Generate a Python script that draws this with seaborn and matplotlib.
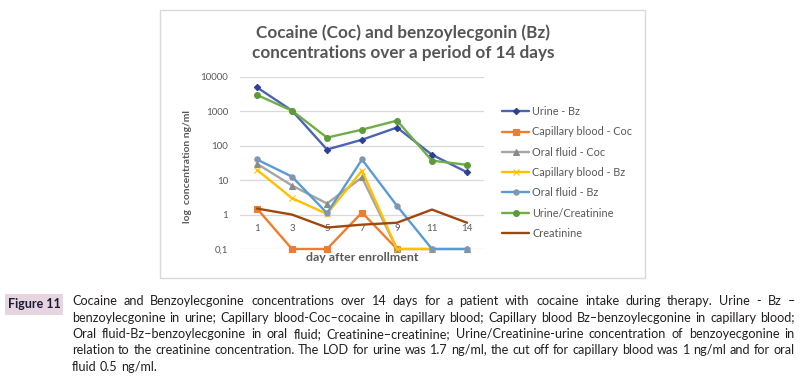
import numpy as np
import pandas as pd
import matplotlib
matplotlib.use("Agg")
import matplotlib.pyplot as plt
import seaborn as sns
from matplotlib.patches import Rectangle
from matplotlib.ticker import NullLocator

# ---------------- data ----------------
days = ["1", "3", "5", "7", "9", "11", "14"]
urine_bz = [5000, 1050, 78, 150, 340, 55, 17]
cap_blood_coc = [1.5, 0.1, 0.1, 1.15, 0.1, np.nan, np.nan]
oral_fluid_coc = [30, 7, 2.1, 12, 0.1, 0.1, 0.1]
cap_blood_bz = [20, 3, 1.05, 19, 0.1, 0.1, np.nan]
oral_fluid_bz = [40, 12.7, 1.1, 40, 1.8, 0.1, 0.1]
urine_creatinine = [3000, 1050, 173, 295, 540, 37, 28]
creatinine = [1.5, 1.0, 0.42, 0.51, 0.58, 1.4, 0.58]

series_names = ["Urine - Bz", "Capillary blood - Coc", "Oral fluid - Coc",
                "Capillary blood - Bz", "Oral fluid - Bz", "Urine/Creatinine",
                "Creatinine"]
series_values = [urine_bz, cap_blood_coc, oral_fluid_coc, cap_blood_bz,
                 oral_fluid_bz, urine_creatinine, creatinine]

y_ticks = [0.1, 1, 10, 100, 1000, 10000]
y_tick_labels = ["0,1", "1", "10", "100", "1000", "10000"]

title_lines = ["Cocaine (Coc) and benzoylecgonin (Bz)",
               "concentrations over a period of 14 days"]
x_title = "day after enrollment"
y_title = "log  concentration ng/ml"

figure_label = "Figure 11"
caption_lines = [
    "Cocaine and Benzoylecgonine concentrations over 14 days for a patient with cocaine intake during therapy. Urine - Bz \u2013",
    "benzoylecgonine in urine; Capillary blood-Coc\u2013cocaine in capillary blood; Capillary blood Bz\u2013benzoylecgonine in capillary blood;",
    "Oral fluid-Bz\u2013benzoylecgonine in oral fluid; Creatinine\u2013creatinine; Urine/Creatinine-urine concentration of benzoyecgonine in",
    "relation to the creatinine concentration. The LOD for urine was 1.7 ng/ml, the cut off for capillary blood was 1 ng/ml and for oral",
    "fluid 0.5 ng/ml.",
]

# ---------------- styles ----------------
styles = {
    "Urine - Bz": dict(color="#4a63b5", marker="D", ms=3.2, mfc="#2f3f95", mec="#2f3f95"),
    "Capillary blood - Coc": dict(color="#ED7D31", marker="s", ms=4.5, mfc="#ED7D31", mec="#ED7D31"),
    "Oral fluid - Coc": dict(color="#A5A5A5", marker="^", ms=3.8, mfc="#8a8a8a", mec="#8a8a8a"),
    "Capillary blood - Bz": dict(color="#FFC000", marker="x", ms=3.8, mfc="#FFC000", mec="#FFC000"),
    "Oral fluid - Bz": dict(color="#5B9BD5", marker="o", ms=3.8, mfc="#7f95b5", mec="#7f95b5"),
    "Urine/Creatinine": dict(color="#70AD47", marker="o", ms=4.2, mfc="#5f9a3a", mec="#5f9a3a"),
    "Creatinine": dict(color="#9E480E", marker="", ms=0, mfc="#9E480E", mec="#9E480E"),
}

W, H = 803, 379
sns.set_theme(style="white")
plt.rcParams["font.family"] = ["Lato", "DejaVu Sans"]

fig = plt.figure(figsize=(W / 100, H / 100), dpi=100)
fig.patch.set_facecolor("white")
renderer = fig.canvas.get_renderer()


def fx(px):
    return px / W


def fy(py):
    return 1 - py / H


def fit_size(text, target_px, base=10, **kw):
    t = fig.text(0, 0, text, fontsize=base, **kw)
    w = t.get_window_extent(renderer).width
    t.remove()
    return base * target_px / w


# chart frame
fig.patches.append(Rectangle((fx(160), fy(278)), fx(645) - fx(160), fy(10) - fy(278),
                             transform=fig.transFigure, fill=False,
                             ec="#d9d9d9", lw=1.0))

ax_left, ax_right, ax_top, ax_bottom = 239.5, 484.5, 77, 249
ax = fig.add_axes([fx(ax_left), fy(ax_bottom), fx(ax_right) - fx(ax_left),
                   fy(ax_top) - fy(ax_bottom)])
ax.set_facecolor("none")

df = pd.DataFrame({"day": days})
for n, v in zip(series_names, series_values):
    df[n] = v
long = df.melt(id_vars="day", var_name="series", value_name="value")
long["pos"] = long["day"].map({d: i for i, d in enumerate(days)})

handles = []
for z, name in enumerate(series_names):
    sub = long[long["series"] == name].dropna()
    st = styles[name]
    sns.lineplot(data=sub, x="pos", y="value", ax=ax, color=st["color"],
                 marker=st["marker"] if st["marker"] else None,
                 markersize=st["ms"], markerfacecolor=st["mfc"],
                 markeredgecolor=st["mec"], markeredgewidth=0.8,
                 lw=1.7, sort=False, errorbar=None, legend=False,
                 clip_on=False, zorder=3 + z)
    line = ax.lines[-1]
    line.set_label(name)
    handles.append(line)

ax.set_yscale("log")
ax.set_ylim(0.1, 10000)
ax.set_xlim(-0.5, len(days) - 0.5)
ax.yaxis.set_minor_locator(NullLocator())
ax.set_yticks(y_ticks)
ax.set_yticklabels(y_tick_labels)
ax.set_xticks(range(len(days)))
ax.set_xticklabels(days)
ax.tick_params(axis="y", length=0, pad=8.3, labelsize=7, labelcolor="#595959")
ax.tick_params(axis="x", length=0, pad=-18, labelsize=7, labelcolor="#595959")
for s in ax.spines.values():
    s.set_visible(False)
ax.grid(axis="y", color="#d9d9d9", lw=0.9)
ax.grid(axis="x", visible=False)
ax.set_axisbelow(True)

xs = fit_size(x_title, 113, fontweight="bold")
ys = fit_size(y_title, 113, fontweight="bold")
ax.set_xlabel(x_title, fontsize=xs, fontweight="bold", color="#595959")
ax.set_ylabel(y_title, fontsize=ys, fontweight="bold", color="#595959")
ax.xaxis.set_label_coords(0.5, (ax_bottom - 252) / (ax_bottom - ax_top))
ax.yaxis.set_label_coords((191.5 - ax_left) / (ax_right - ax_left), 0.48)

leg = fig.legend(handles, series_names, loc="upper left",
                 bbox_to_anchor=(fx(502), fy(106)), frameon=False,
                 fontsize=7.8, handlelength=2.5, handletextpad=0.3,
                 labelspacing=0.86, borderpad=0, borderaxespad=0, numpoints=1)
for t in leg.get_texts():
    t.set_color("#595959")

# title
tsize = fit_size(title_lines[0], 293, fontweight="bold")
for i, tl in enumerate(title_lines):
    fig.text(fx(403), fy(33 + 20 * i), tl, fontsize=tsize, fontweight="bold",
             color="#555555", ha="center", va="center")

# figure label box
fig.patches.append(Rectangle((fx(5), fy(315)), fx(63) - fx(5), fy(294) - fy(315),
                             transform=fig.transFigure, fc="#e6d5df", ec="none"))
lsize = fit_size(figure_label, 53, fontweight="bold")
fig.text(fx(34), fy(304.5), figure_label, fontsize=lsize, fontweight="bold",
         color="#1b1b3a", ha="center", va="center")

# caption, justified word by word
csize = fit_size(caption_lines[3], 716)


def word_width(w):
    t = fig.text(0, 0, w, fontsize=csize)
    ww = t.get_window_extent(renderer).width
    t.remove()
    return ww


space_w = word_width("a a") - word_width("aa")
x0, x1 = 72, 795
for i, line in enumerate(caption_lines):
    y = 301 + 16.5 * i
    words = line.split(" ")
    widths = [word_width(w) for w in words]
    last = i == len(caption_lines) - 1
    gap = space_w if last else (x1 - x0 - sum(widths)) / (len(words) - 1)
    x = x0
    for w, ww in zip(words, widths):
        fig.text(fx(x), fy(y), w, fontsize=csize, color="#231f20",
                 ha="left", va="center")
        x += ww + gap

fig.savefig("out.png", dpi=100, facecolor="white")
